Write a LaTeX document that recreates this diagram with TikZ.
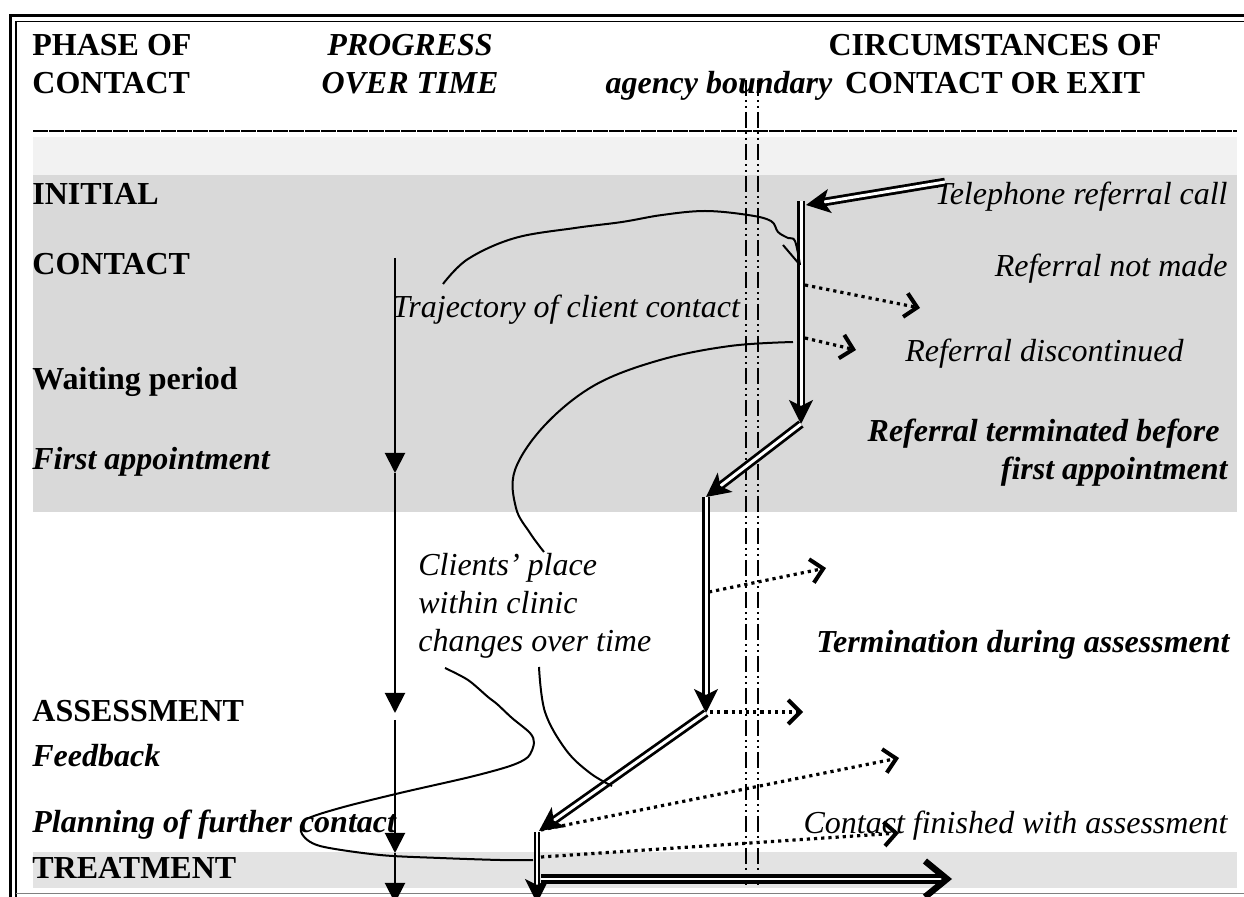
\documentclass[tikz,border=0pt]{standalone}
\usepackage{fontspec}
\setmainfont{Liberation Serif}
\usetikzlibrary{arrows.meta,positioning}
\newcommand{\lblsize}{\fontsize{16pt}{19pt}\selectfont}

\begin{document}
\begin{tikzpicture}[x=0.5pt, y=-0.5pt,
    headlbl/.style={inner sep=0pt, font=\lblsize\bfseries},
    headlblit/.style={inner sep=0pt, font=\lblsize\bfseries\itshape},
    phaselbl/.style={inner sep=0pt, anchor=base west, font=\lblsize\bfseries},
    phaselblit/.style={phaselbl, font=\lblsize\bfseries\itshape},
    exitlbl/.style={inner sep=0pt, anchor=base east, font=\lblsize\itshape},
    exitlblbf/.style={exitlbl, font=\lblsize\bfseries\itshape},
    notelbl/.style={inner sep=0pt, anchor=base west, font=\lblsize\itshape},
    trajarrow/.style={double, line width=1.4pt, double distance=1.5pt,
      -{Stealth[length=12pt, width=12pt, inset=3pt]}},
    exitarrow/.style={line width=1.6pt, dash pattern=on 1.6pt off 2pt,
      -{Straight Barb[length=6pt, width=12pt, line width=2pt]}},
    timearrow/.style={line width=1pt, -{Triangle[length=10pt, width=10pt]}},
    pointer/.style={line width=1pt},
    boundary/.style={line width=0.75pt,
      dash pattern=on 8pt off 2pt on 1pt off 2pt on 1pt off 2pt}
  ]
  \useasboundingbox (0,0) rectangle (1244,897);
  % bands
  \fill[black!5] (33,137) rectangle (1237,175);
  \fill[black!15] (33,175) rectangle (1237,512);
  \fill[black!11] (33,852) rectangle (1237,888);
  % frame
  \draw[line width=1.5pt] (10.5,905) |- (1250,15.5);
  \draw[line width=0.75pt] (16,905) |- (1250,21.5);
  \draw[gray, line width=0.75pt] (16,893.5) -- (1250,893.5);
  \draw[line width=0.8pt, dash pattern=on 7.6pt off 0.4pt] (33,131) -- (1237,131);

  \node[headlbl, anchor=base west, align=left] (phase) at (32,94) {PHASE OF\\CONTACT};
  \node[headlblit, anchor=base, align=center] (progress) at (410,94) {PROGRESS\\OVER TIME};
  \node[headlblit, anchor=base] (agency) at (719,94) {agency boundary};
  \node[headlbl, anchor=base, align=center] (circum) at (995,94) {CIRCUMSTANCES OF\\CONTACT OR EXIT};

  \node[phaselbl] (initial) at (32,205) {INITIAL};
  \node[phaselbl] (contact) at (32,275) {CONTACT};
  \node[phaselbl] (waiting) at (32,390) {Waiting period};
  \node[phaselblit] (firstapp) at (32,470) {First appointment};
  \node[phaselbl] (assess) at (32,722) {ASSESSMENT};
  \node[phaselblit] (feedback) at (32,767) {Feedback};
  \node[phaselblit] (planning) at (32,833) {Planning of further contact};
  \node[phaselbl] (treat) at (32,879) {TREATMENT};

  \node[exitlbl] (telcall) at (1228,205) {Telephone referral call};
  \node[exitlbl] (notmade) at (1228,277) {Referral not made};
  \node[notelbl] (discont) at (905,362) {Referral discontinued};
  \node[exitlblbf, align=right] (termfirst) at (1228,480)
    {Referral terminated before\hspace*{4pt}\\first appointment};
  \node[exitlblbf] (termassess) at (1230,653) {Termination during assessment};
  \node[exitlbl] (finished) at (1228,834) {Contact finished with assessment};
  \node[notelbl] (trajlbl) at (392,318) {Trajectory of client contact};
  \node[notelbl, align=left] (placelbl) at (418,652)
    {Clients’ place\\within clinic\\changes over time};

  % agency boundary
  \coordinate (bt) at (752,80);
  \coordinate (bb) at (752,885);
  \draw[boundary] ([xshift=-3]bt) -- ([xshift=-3]bb);
  \draw[boundary] ([xshift=3]bt) -- ([xshift=3]bb);

  % progress over time
  \coordinate (t0) at (395,258);
  \coordinate (t1) at (395,473);
  \coordinate (t2) at (395,713);
  \coordinate (t3) at (395,720);
  \coordinate (t4) at (395,853);
  \coordinate (t5) at (395,903);
  \draw[timearrow] (t0) -- (t1);
  \draw[timearrow] (t1) -- (t2);
  \draw[timearrow] (t3) -- (t4);
  \draw[timearrow] (t4) -- (t5);

  % trajectory
  \coordinate (call) at (945,182);
  \coordinate (s1) at (806,205);
  \coordinate (s1top) at (801,201);
  \coordinate (s2) at (801,424);
  \coordinate (s3) at (706,497);
  \coordinate (s4) at (706,713);
  \coordinate (s5) at (539,831);
  \coordinate (s5top) at (537,832);
  \coordinate (s6) at (537,903);
  \coordinate (tr0) at (541,879);
  \coordinate (tr1) at (952,879);
  \draw[trajarrow] (call) -- (s1);
  \draw[trajarrow] (s1top) -- (s2);
  \draw[trajarrow] (s2) -- (s3);
  \draw[trajarrow] (s3) -- (s4);
  \draw[trajarrow] (s4) -- (s5);
  \draw[trajarrow, line width=1pt, double distance=1.4pt] (s5top) -- (s6);
  \draw[double, line width=1.9pt, double distance=1pt,
    -{Straight Barb[length=11pt, width=18pt, line width=3.2pt]}] (tr0) -- (tr1);

  % exits
  \coordinate (x1) at (805,285);  \coordinate (x1e) at (920,308);
  \coordinate (x2) at (805,338);  \coordinate (x2e) at (856,350);
  \coordinate (x3) at (709,592);  \coordinate (x3e) at (826,568);
  \coordinate (x4) at (710,712);  \coordinate (x4e) at (803,712);
  \coordinate (x5) at (541,830);  \coordinate (x5e) at (899,758);
  \coordinate (x6) at (541,857);  \coordinate (x6e) at (899,833);
  \draw[exitarrow] (x1) -- (x1e);
  \draw[exitarrow] (x2) -- (x2e);
  \draw[exitarrow] (x3) -- (x3e);
  \draw[exitarrow] (x4) -- (x4e);
  \draw[exitarrow] (x5) -- (x5e);
  \draw[exitarrow] (x6) -- (x6e);

  % pointers
  \draw[pointer] plot[smooth, tension=0.6] coordinates {(443,284) (468,259)
    (515,238) (575,228) (622,222) (662,215) (705,211) (748,215) (771,221)
    (778,232) (788,238) (795,241) (800,265)};
  \draw[pointer] (783,245) -- (800,265);
  \draw[pointer] plot[smooth, tension=0.6] coordinates {(793,342) (730,346)
    (660,360) (595,385) (545,425) (515,470) (516,508) (530,533) (544,552)};
  \draw[pointer] plot[smooth, tension=0.5] coordinates {(445,668) (468,680)
    (488,697) (497,704) (512,718) (530,733) (534,743) (528,757) (510,766)
    (470,777) (400,793) (340,808) (305,820) (302,834) (320,846) (380,855)
    (440,858) (500,860) (533,860)};
  \draw[pointer] plot[smooth, tension=0.6] coordinates {(539,667) (545,712)
    (566,750) (590,773) (612,786)};
\end{tikzpicture}
\end{document}
